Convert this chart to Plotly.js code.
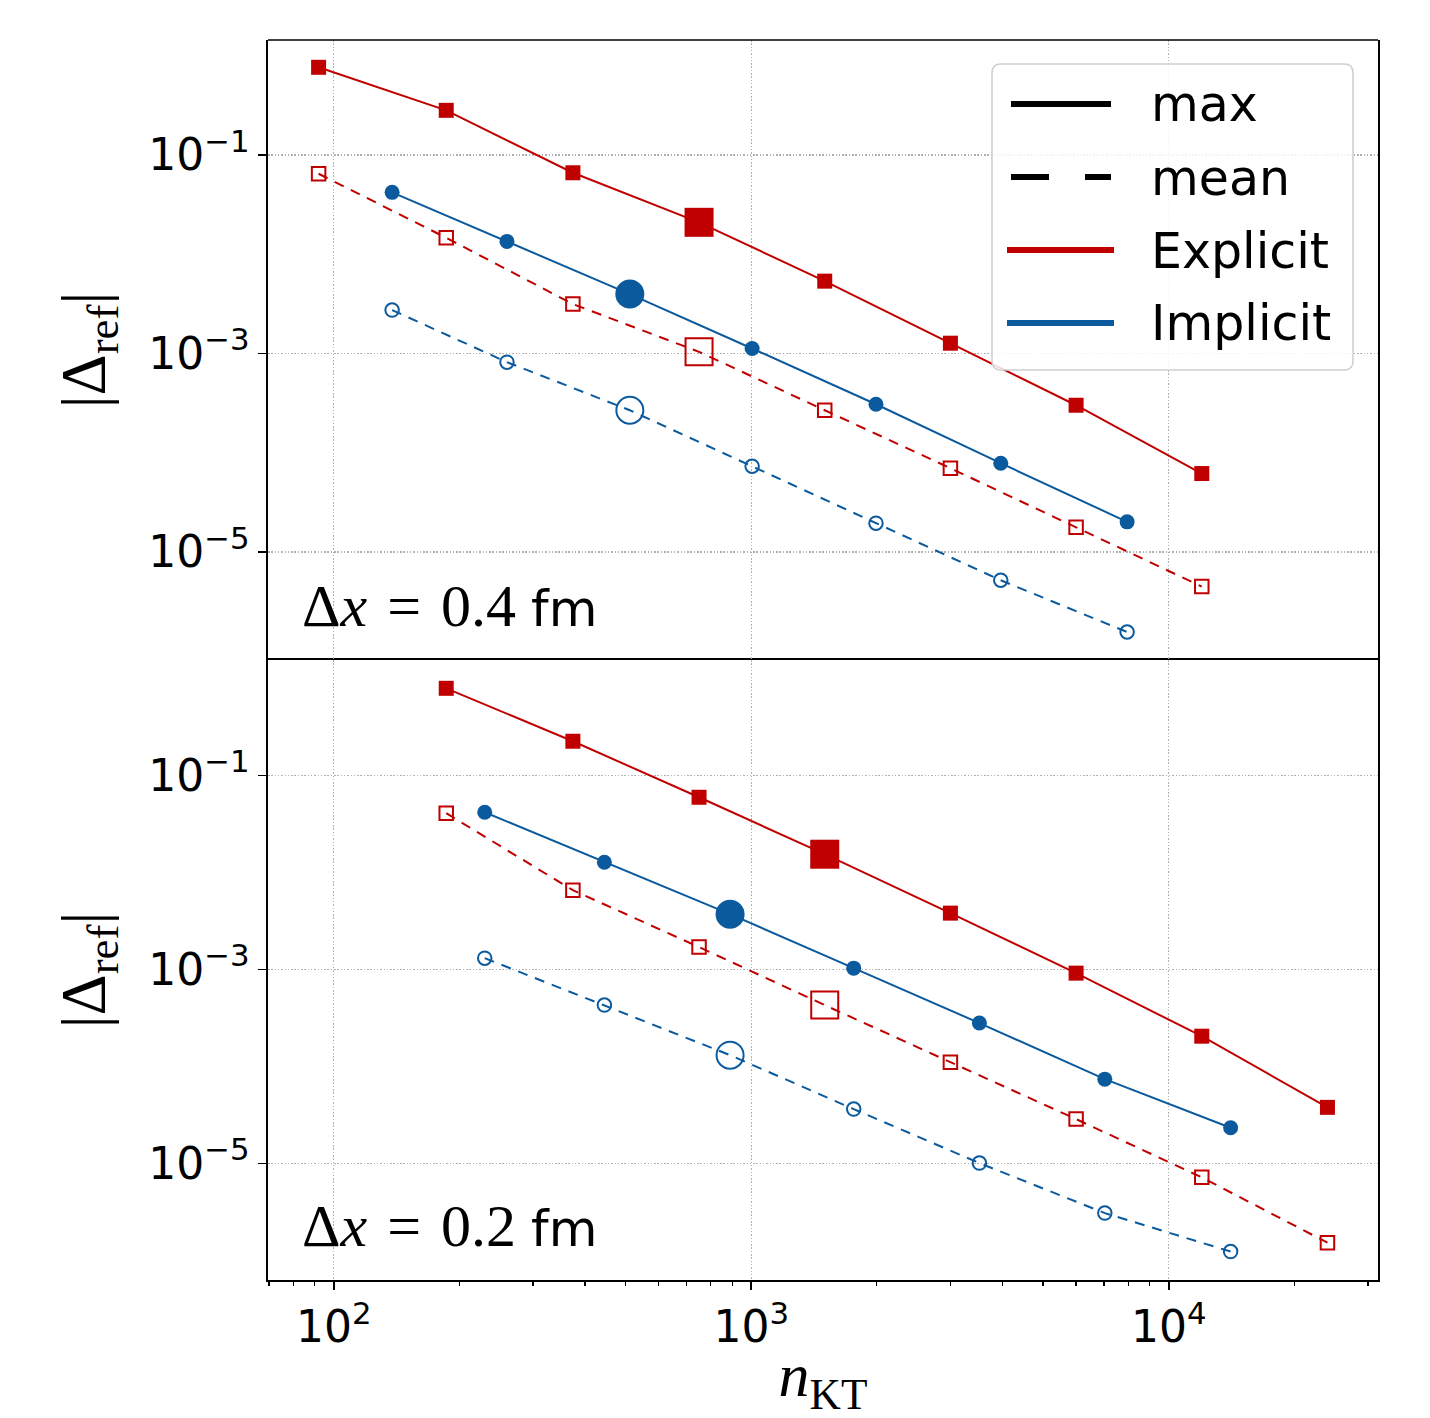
<!DOCTYPE html>
<html>
<head>
<meta charset="utf-8">
<script src="https://cdn.plot.ly/plotly-3.0.1.min.js"></script>
<style>html,body{margin:0;padding:0;background:#fff;}</style>
</head>
<body>
<div id="chart" style="width:1430px;height:1418px;"></div>
<script>
// ---------------- data: Δx = 0.4 fm (top panel) ----------------
const xExplicit04     = [92, 186, 374, 750, 1500, 3000, 6000, 12000];
const yExplicitMax04  = [0.766, 0.2823, 0.0663, 0.0210, 0.00536, 0.00127, 3.01e-4, 6.17e-5];
const yExplicitMean04 = [0.0648, 0.01466, 3.15e-3, 1.04e-3, 2.68e-4, 6.98e-5, 1.77e-5, 4.48e-6];
const xImplicit04     = [138, 260, 512, 1005, 1990, 3960, 7950];
const yImplicitMax04  = [0.0421, 0.01348, 3.97e-3, 1.124e-3, 3.08e-4, 7.84e-5, 2.01e-5];
const yImplicitMean04 = [2.74e-3, 8.18e-4, 2.68e-4, 7.31e-5, 1.95e-5, 5.18e-6, 1.56e-6];

// ---------------- data: Δx = 0.2 fm (bottom panel) ----------------
const xExplicit02     = [186, 374, 750, 1500, 3000, 6000, 12000, 24000];
const yExplicitMax02  = [0.794, 0.2258, 0.0597, 0.01544, 3.81e-3, 9.16e-4, 2.05e-4, 3.78e-5];
const yExplicitMean02 = [0.0409, 6.57e-3, 1.70e-3, 4.29e-4, 1.107e-4, 2.86e-5, 7.17e-6, 1.52e-6];
const xImplicit02     = [230, 445, 890, 1760, 3520, 7030, 14070];
const yImplicitMax02  = [0.0418, 0.01277, 3.72e-3, 1.031e-3, 2.80e-4, 7.39e-5, 2.33e-5];
const yImplicitMean02 = [1.307e-3, 4.29e-4, 1.307e-4, 3.63e-5, 1.007e-5, 3.07e-6, 1.23e-6];

// tick labels / texts
const xTickVals = [100, 1000, 10000];
const xTickText = ['10<sup>2</sup>', '10<sup>3</sup>', '10<sup>4</sup>'];
const yTickVals = [1e-1, 1e-3, 1e-5];
const yTickText = ['10<sup>\u22121</sup>', '10<sup>\u22123</sup>', '10<sup>\u22125</sup>'];
const legendLabels = ['max', 'mean', 'Explicit', 'Implicit'];
const panelLabels = ['0.4', '0.2'];

// ---------------- styles ----------------
const RED = '#c00000';
const BLUE = '#0b5a9e';
// index of the emphasised (large) marker in each series
const HL = {top: {exp: 3, imp: 2}, bottom: {exp: 3, imp: 2}};

function sizes(n, hi, small, big) {
  const s = [];
  for (let i = 0; i < n; i++) s.push(i === hi ? big : small);
  return s;
}

function series(x, y, color, filled, symbolBase, hi, xa, ya) {
  const open = !filled;
  return {
    type: 'scatter', mode: 'lines+markers', x: x, y: y, xaxis: xa, yaxis: ya,
    showlegend: false, hoverinfo: 'skip',
    line: {color: color, width: 2, dash: filled ? 'solid' : '10px,8px'},
    marker: {
      symbol: open ? symbolBase + '-open' : symbolBase,
      color: color, opacity: 1,
      size: open ? sizes(x.length, hi, 13.5, 27) : sizes(x.length, hi, 15, 29),
      line: {color: color, width: open ? 2 : 0}
    }
  };
}

const traces = [
  // top panel (x2 / y)
  series(xExplicit04, yExplicitMax04, RED, true, 'square', HL.top.exp, 'x2', 'y'),
  series(xExplicit04, yExplicitMean04, RED, false, 'square', HL.top.exp, 'x2', 'y'),
  series(xImplicit04, yImplicitMax04, BLUE, true, 'circle', HL.top.imp, 'x2', 'y'),
  series(xImplicit04, yImplicitMean04, BLUE, false, 'circle', HL.top.imp, 'x2', 'y'),
  // bottom panel (x / y2)
  series(xExplicit02, yExplicitMax02, RED, true, 'square', HL.bottom.exp, 'x', 'y2'),
  series(xExplicit02, yExplicitMean02, RED, false, 'square', HL.bottom.exp, 'x', 'y2'),
  series(xImplicit02, yImplicitMax02, BLUE, true, 'circle', HL.bottom.imp, 'x', 'y2'),
  series(xImplicit02, yImplicitMean02, BLUE, false, 'circle', HL.bottom.imp, 'x', 'y2')
];

// ---------------- layout helpers (pixel -> paper) ----------------
const PL = 268, PR = 1378, PT = 40, PB = 1280;
const fx = px => (px - PL) / (PR - PL);
const fy = py => (PB - py) / (PB - PT);

function roundRect(x0, y0, x1, y1, r) {
  const P = (x, y) => fx(x).toFixed(5) + ',' + fy(y).toFixed(5);
  return 'M' + P(x0 + r, y0) + ' L' + P(x1 - r, y0) + ' Q' + P(x1, y0) + ' ' + P(x1, y0 + r) +
    ' L' + P(x1, y1 - r) + ' Q' + P(x1, y1) + ' ' + P(x1 - r, y1) +
    ' L' + P(x0 + r, y1) + ' Q' + P(x0, y1) + ' ' + P(x0, y1 - r) +
    ' L' + P(x0, y0 + r) + ' Q' + P(x0, y0) + ' ' + P(x0 + r, y0) + ' Z';
}

const minorX = [];
for (let d = 10; d <= 10000; d *= 10) for (let k = 2; k <= 9; k++) minorX.push(k * d);

const tickFont = {family: 'DejaVu Sans', size: 44, color: '#000'};
const gridStyle = {showgrid: true, gridcolor: '#b0b0b0', gridwidth: 1.3, griddash: '1.5px,1.8px'};
const xRange = [1.8426, 4.5013];

const axisCommon = {
  type: 'log', showline: true, mirror: true, linecolor: '#000', linewidth: 1.6,
  zeroline: false, ticks: 'outside', ticklen: 8, tickwidth: 1.6, tickcolor: '#000',
  tickfont: tickFont
};

const yTitle = {text: '|\u0394<sub>ref</sub>|', font: {family: 'Liberation Serif', size: 64, color: '#000'}, standoff: 22};

const shapes = [];
const annotations = [];

// top border of the upper panel
shapes.push({type: 'line', xref: 'paper', yref: 'paper', x0: 0, x1: 1, y0: 1, y1: 1,
  line: {color: '#000', width: 1.6}, layer: 'above'});

// legend box
shapes.push({type: 'path', xref: 'paper', yref: 'paper', path: roundRect(992, 64, 1353, 370, 9),
  fillcolor: 'rgba(255,255,255,0.85)', line: {color: '#d0d0d0', width: 1.6}, layer: 'above'});
const legY = [104, 177, 250, 323];
const legStyles = [
  {color: '#000', dash: 'solid', x0: 1011, x1: 1111},
  {color: '#000', dash: '38px,36px', x0: 1011, x1: 1111},
  {color: RED, dash: 'solid', x0: 1007, x1: 1114},
  {color: BLUE, dash: 'solid', x0: 1007, x1: 1114}
];
legStyles.forEach((s, i) => {
  shapes.push({type: 'line', xref: 'paper', yref: 'paper', x0: fx(s.x0), x1: fx(s.x1), y0: fy(legY[i]), y1: fy(legY[i]),
    line: {color: s.color, width: 6, dash: s.dash}, layer: 'above'});
  annotations.push({xref: 'paper', yref: 'paper', x: fx(1149), y: fy(legY[i] + 1), xanchor: 'left', yanchor: 'middle',
    text: legendLabels[i], showarrow: false, font: {family: 'DejaVu Sans', size: 49, color: '#000'}});
});

// panel labels
const panelBase = [628, 1248];
panelLabels.forEach((v, i) => {
  annotations.push({xref: 'paper', yref: 'paper', x: fx(300), y: fy(panelBase[i] + 13), xanchor: 'left', yanchor: 'bottom',
    text: '\u0394<i>x</i>\u2004=\u2004' + v + ' <span style="font-family:DejaVu Sans;font-size:50px">fm</span>', showarrow: false,
    font: {family: 'Liberation Serif', size: 60, color: '#000'}});
});

const layout = {
  width: 1430, height: 1418,
  margin: {l: PL, r: 1430 - PR, t: PT, b: 1418 - PB},
  paper_bgcolor: '#fff', plot_bgcolor: '#fff',
  showlegend: false,
  xaxis: Object.assign({}, axisCommon, gridStyle, {
    anchor: 'y2', domain: [0, 1], range: xRange,
    tickmode: 'array', tickvals: xTickVals, ticktext: xTickText,
    minor: {tickmode: 'array', tickvals: minorX, ticks: 'outside', ticklen: 4.5, tickwidth: 1.2, tickcolor: '#000', showgrid: false},
    title: {text: '<i>n</i><sub>KT</sub>', font: {family: 'Liberation Serif', size: 62, color: '#000'}, standoff: 37}
  }),
  xaxis2: Object.assign({}, axisCommon, gridStyle, {
    anchor: 'y', domain: [0, 1], range: xRange, matches: 'x',
    tickmode: 'array', tickvals: xTickVals, ticktext: xTickText,
    showticklabels: false, ticks: '', showline: false
  }),
  yaxis: Object.assign({}, axisCommon, gridStyle, {
    anchor: 'x2', domain: [0.5, 1], range: [-6.089, 0.1596],
    tickmode: 'array', tickvals: yTickVals, ticktext: yTickText, title: yTitle
  }),
  yaxis2: Object.assign({}, axisCommon, gridStyle, {
    anchor: 'x', domain: [0, 0.5], range: [-6.203, 0.1918],
    tickmode: 'array', tickvals: yTickVals, ticktext: yTickText, title: yTitle
  }),
  shapes: shapes,
  annotations: annotations
};

Plotly.newPlot('chart', traces, layout, {displayModeBar: false, staticPlot: true});
</script>
</body>
</html>
